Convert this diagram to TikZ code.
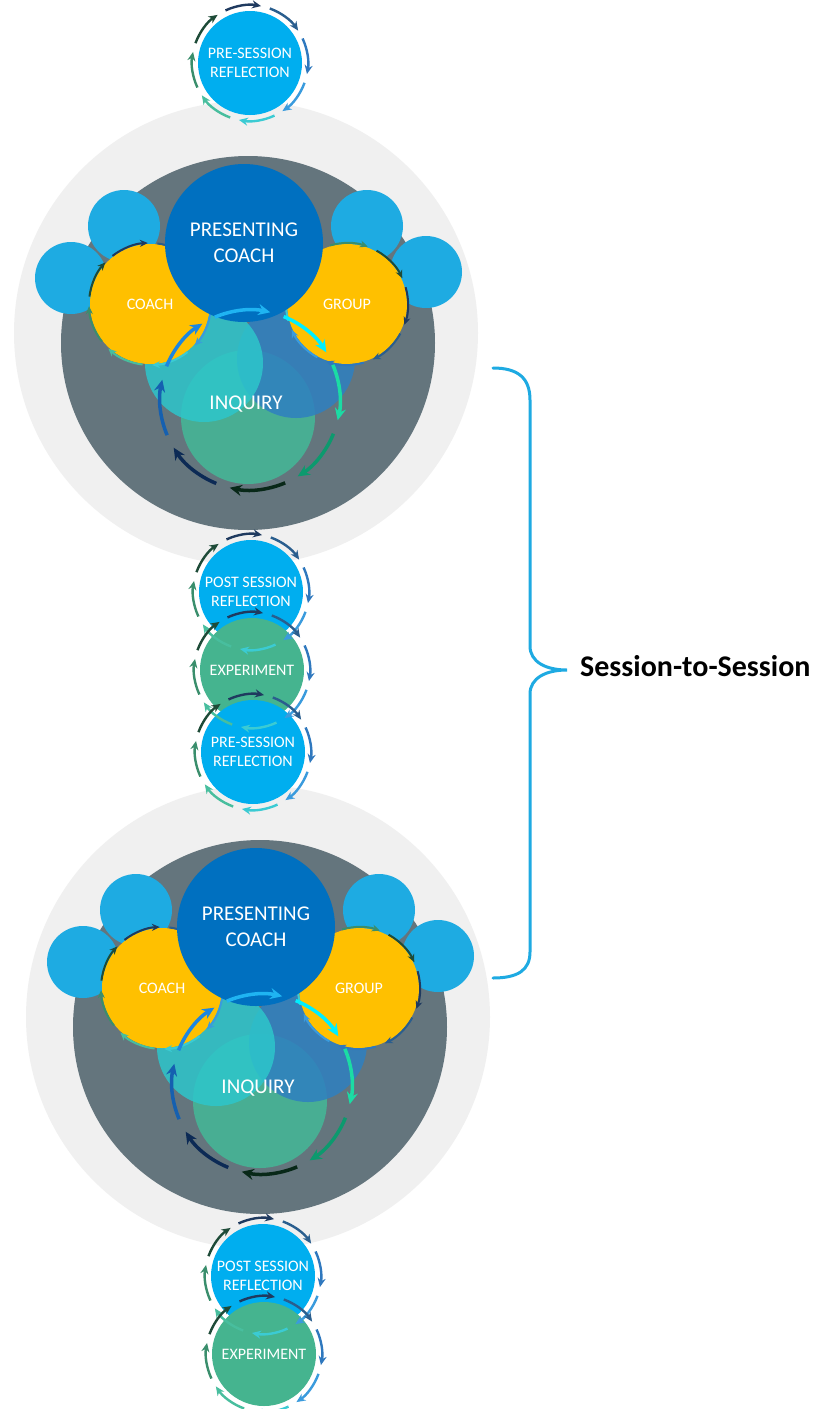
\documentclass[tikz,border=0pt]{standalone}
\usepackage{fontspec}
\setmainfont{Carlito}
\usetikzlibrary{arrows.meta}
\usepackage{xcolor}
\definecolor{haze}{RGB}{240,240,240}
\definecolor{slate}{RGB}{100,117,125}
\definecolor{pcblue}{RGB}{0,112,192}
\definecolor{gold}{RGB}{255,192,0}
\definecolor{sky}{RGB}{30,171,226}
\definecolor{reflblue}{RGB}{0,174,239}
\definecolor{expgreen}{RGB}{69,180,143}
\definecolor{venngreen}{RGB}{72,174,147}
\definecolor{venncyan}{RGB}{45,198,203}
\definecolor{vennblue}{RGB}{47,128,192}
\definecolor{bracecol}{RGB}{30,170,226}
% ring colours, clockwise from the dark green one
\definecolor{ringA}{RGB}{30,75,56}
\definecolor{ringB}{RGB}{31,58,95}
\definecolor{ringC}{RGB}{42,94,142}
\definecolor{ringD}{RGB}{47,120,190}
\definecolor{ringE}{RGB}{58,155,221}
\definecolor{ringF}{RGB}{59,203,211}
\definecolor{ringG}{RGB}{72,190,158}
\definecolor{ringH}{RGB}{58,142,108}
% inquiry loop colours
\definecolor{cycA}{RGB}{31,180,242}
\definecolor{cycB}{RGB}{0,238,255}
\definecolor{cycC}{RGB}{27,220,164}
\definecolor{cycD}{RGB}{12,154,110}
\definecolor{cycE}{RGB}{8,40,24}
\definecolor{cycF}{RGB}{12,42,85}
\definecolor{cycG}{RGB}{21,96,176}
\definecolor{cycH}{RGB}{28,134,224}

\tikzset{
  disc/.style={circle,inner sep=0pt,text=white,align=center},
  sring/.style={line width=2.4pt,-{Stealth[length=9pt,width=8pt]}},
  yring/.style={line width=2pt,-{Stealth[length=8pt,width=7pt]}},
  inqloop/.style={line width=3.5pt,-{Stealth[length=12pt,width=11pt]}},
}
\newcommand{\smallfont}{\fontsize{16}{19}\selectfont}
\newcommand{\bigfont}{\fontsize{21}{26}\selectfont}

% #1 node, #2 radius, #3 first angle, #4 style, #5 colours
\newcommand{\arrowring}[5]{%
  \foreach \c [count=\i from 0] in {#5}{
    \pgfmathsetmacro{\sa}{#3-45*\i}
    \pgfmathsetmacro{\ea}{\sa-36}
    \draw[#4,color=\c] ([shift={(\sa:#2)}]#1.center)
      arc[start angle=\sa,end angle=\ea,radius=#2];
  }}

% one coaching session, #1 suffix, #2/#3 shift
\newcommand{\sessionunit}[3]{%
  \begin{scope}[shift={(#2,#3)}]
    \fill[haze] (246,-333) circle (232);
    \fill[slate] (248,-343) circle (187);
    % satellites
    \fill[sky] (124,-226) circle (36);
    \fill[sky] (71,-278) circle (36);
    \fill[sky] (367,-226) circle (36);
    \fill[sky] (426,-272) circle (36);
    % inquiry venn
    \fill[venngreen] (248,-417) circle (67);
    \fill[vennblue,fill opacity=.85] (296,-359) circle (59);
    \fill[venncyan,fill opacity=.85] (204,-363) circle (59);
    \node[disc,fill=gold,minimum size=120pt,font=\smallfont] (coach#1) at (150,-304) {COACH};
    \node[disc,fill=gold,minimum size=120pt,font=\smallfont] (group#1) at (347,-304) {GROUP};
    \arrowring{coach#1}{61}{173}{yring}{ringA,ringB,ringC,ringD,ringE,ringF,ringG,ringH}
    \arrowring{group#1}{61}{61}{yring}{ringA,ringB,ringC,ringD,ringE,ringF,ringG,ringH}
    \node[disc,fill=pcblue,minimum size=158pt,font=\bigfont] (pc#1) at (244,-243) {PRESENTING\\COACH};
    \node[text=white,font=\bigfont,inner sep=0pt] (inq#1) at (246,-404) {INQUIRY};
    \coordinate (hub#1) at (250,-400);
    \arrowring{hub#1}{90}{113}{inqloop}{cycA,cycB,cycC,cycD,cycE,cycF,cycG,cycH}
  \end{scope}}

\begin{document}
\begin{tikzpicture}[x=1pt,y=1pt]
  \useasboundingbox (0,0) rectangle (817,-1409);
  \fill[white] (0,0) rectangle (817,-1409);
  \clip (0,0) rectangle (817,-1409);

  \sessionunit{1}{0}{0}
  \sessionunit{2}{12}{-684}

  % reflection and experiment steps
  \node[disc,fill=reflblue,minimum size=104pt,font=\smallfont] (pre1) at (250,-63) {PRE-SESSION\\REFLECTION};
  \node[disc,fill=reflblue,minimum size=104pt,font=\smallfont] (post1) at (251,-592) {POST SESSION\\REFLECTION};
  \node[disc,fill=expgreen,minimum size=104pt,font=\smallfont] (exp1) at (252,-670) {EXPERIMENT};
  \node[disc,fill=reflblue,minimum size=104pt,font=\smallfont] (pre2) at (253,-752) {PRE-SESSION\\REFLECTION};
  \node[disc,fill=reflblue,minimum size=104pt,font=\smallfont] (post2) at (263,-1276) {POST SESSION\\REFLECTION};
  \node[disc,fill=expgreen,minimum size=104pt,font=\smallfont] (exp2) at (264,-1354) {EXPERIMENT};
  \foreach \n in {pre1,post1,exp1,pre2,post2,exp2}{
    \arrowring{\n}{58}{160}{sring}{ringA,ringB,ringC,ringD,ringE,ringF,ringG,ringH}
  }

  % brace
  \node[anchor=west,inner sep=0pt,font=\fontsize{30}{36}\selectfont\bfseries] (s2s) at (580,-666) {Session-to-Session};
  \coordinate (tip) at (567,-670);
  \draw[bracecol,line width=3pt,line cap=round]
    (493,-368) .. controls (518,-368) and (530,-378) .. (530,-400) -- (530,-646)
    .. controls (530,-662) and (546,-670) .. (tip)
    .. controls (546,-670) and (530,-678) .. (530,-694) -- (530,-952)
    .. controls (530,-970) and (518,-978) .. (493,-978);
\end{tikzpicture}
\end{document}
